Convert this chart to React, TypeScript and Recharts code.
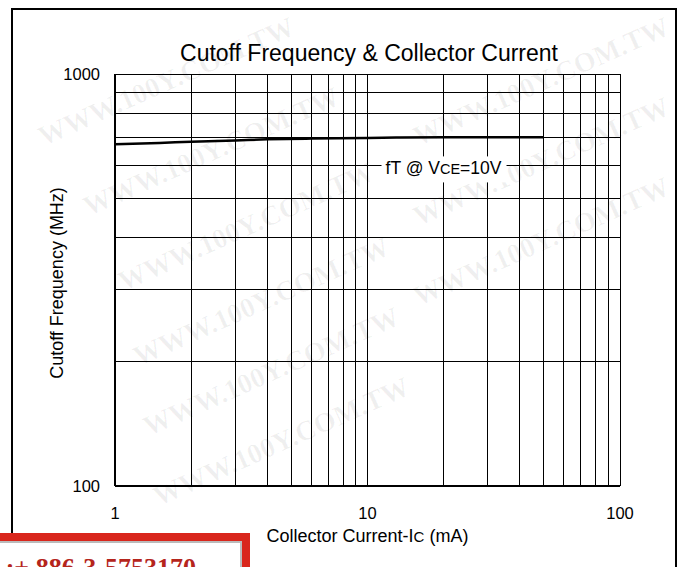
import React from 'react';
import { LineChart, Line, XAxis, YAxis, CartesianGrid, ReferenceDot, Customized } from 'recharts';

const currents = [1, 1.5, 2, 3, 4, 6, 10, 13, 20, 30, 50];
const cutoffFreq = [675, 680, 685, 690, 694, 697, 699, 701, 702, 702, 702];
const xTicks = [1, 2, 3, 4, 5, 6, 7, 8, 9, 10, 20, 30, 40, 50, 60, 70, 80, 90, 100];
const xLabeled = [1, 10, 100];
const yTicks = [100, 200, 300, 400, 500, 600, 700, 800, 900, 1000];
const yLabeled = [100, 1000];
const titleText = 'Cutoff Frequency & Collector Current';
const stampText = 'TEL:+ 886-3-5753170';
const watermarkText = 'WWW.100Y.COM.TW';
const watermarks = [
  [170, 90], [545, 90], [215, 160], [545, 170], [250, 235], [545, 250],
  [265, 310], [275, 380], [285, 450],
];

const rows = currents.map((ic, i) => ({ ic, ft: cutoffFreq[i] }));

const FONT = '"Liberation Sans", Arial, Helvetica, sans-serif';

const XTick = (props: any) => {
  const { x, y, payload } = props;
  if (!xLabeled.includes(payload.value)) return null;
  return (
    <text x={x} y={y + 31} textAnchor="middle" fontFamily={FONT} fontSize={16.5} fill="#000">
      {payload.value}
    </text>
  );
};

const YTick = (props: any) => {
  const { x, y, payload } = props;
  if (!yLabeled.includes(payload.value)) return null;
  return (
    <text x={x - 13} y={y + 6} textAnchor="end" fontFamily={FONT} fontSize={16.5} fill="#000">
      {payload.value}
    </text>
  );
};

const XTitle = (props: any) => {
  const vb = props.viewBox;
  return (
    <text x={vb.x + vb.width / 2} y={542} textAnchor="middle" fontFamily={FONT} fontSize={18} fill="#000">
      Collector Current-I<tspan fontSize={15}>C</tspan> (mA)
    </text>
  );
};

const YTitle = (props: any) => {
  const vb = props.viewBox;
  const cy = vb.y + vb.height / 2 + 3;
  return (
    <text x={63} y={cy} transform={`rotate(-90 63 ${cy})`} textAnchor="middle" fontFamily={FONT} fontSize={18} fill="#000">
      Cutoff Frequency (MHz)
    </text>
  );
};

const Title = () => (
  <text x={369} y={61} textAnchor="middle" fontFamily={FONT} fontSize={23} fill="#000">
    {titleText}
  </text>
);

const Annotation = (props: any) => {
  const { cx, cy } = props;
  return (
    <g>
      <rect x={cx - 62} y={cy - 9} width={125} height={26} fill="#fff" />
      <text x={cx} y={cy + 9} textAnchor="middle" fontFamily={FONT} fontSize={17.5} fill="#000">
        fT @ V<tspan fontSize={14.5}>CE</tspan>=10V
      </text>
    </g>
  );
};

export default function App() {
  return (
    <div style={{ position: 'absolute', left: 0, top: 0, width: 684, height: 567, overflow: 'hidden', background: '#fff' }}>
      <svg width={684} height={567} style={{ position: 'absolute', left: 0, top: 0 }}>
        {watermarks.map(([cx, cy], i) => (
          <text
            key={i}
            x={cx}
            y={cy}
            transform={`rotate(-24 ${cx} ${cy})`}
            textAnchor="middle"
            fontFamily='"Liberation Serif", "DejaVu Serif", serif'
            fontWeight="bold"
            fontSize={28}
            fill="#000"
            fillOpacity={0.06}
          >
            {watermarkText}
          </text>
        ))}
      </svg>
      <div style={{ position: 'absolute', left: 11, top: 8, width: 662, height: 620, border: '2px solid #000' }} />
      <div style={{ position: 'absolute', left: 0, top: 0 }}>
        <LineChart width={684} height={567} data={rows} margin={{ top: 74, right: 64, bottom: 51, left: 65 }}>
          <CartesianGrid stroke="#000" strokeWidth={1} shapeRendering="crispEdges" />
          <XAxis
            dataKey="ic"
            type="number"
            scale="log"
            domain={[1, 100]}
            ticks={xTicks}
            interval={0}
            allowDataOverflow
            tick={<XTick />}
            tickLine={false}
            tickSize={0}
            axisLine={{ stroke: '#000', strokeWidth: 2 }}
            height={30}
            label={{ content: <XTitle /> }}
          />
          <YAxis
            type="number"
            scale="log"
            domain={[100, 1000]}
            ticks={yTicks}
            interval={0}
            allowDataOverflow
            tick={<YTick />}
            tickLine={false}
            tickSize={0}
            axisLine={{ stroke: '#000', strokeWidth: 2 }}
            width={50}
            label={{ content: <YTitle /> }}
          />
          <Line dataKey="ft" type="monotone" stroke="#000" strokeWidth={2.5} dot={false} isAnimationActive={false} />
          <ReferenceDot x={20} y={600} r={0} shape={<Annotation />} />
          <Customized component={Title} />
        </LineChart>
      </div>
      <div
        style={{
          position: 'absolute', left: -20, top: 533, width: 254, height: 60,
          border: '8px solid #d9261c', background: '#fff', boxShadow: 'inset 0 0 0 2px #bbb',
        }}
      />
      <div
        style={{
          position: 'absolute', right: 684 - 196, top: 553, whiteSpace: 'nowrap',
          fontFamily: '"Liberation Serif", "DejaVu Serif", serif', fontWeight: 'bold', fontSize: 26,
          color: '#b5251c', lineHeight: '30px',
        }}
      >
        {stampText}
      </div>
    </div>
  );
}
